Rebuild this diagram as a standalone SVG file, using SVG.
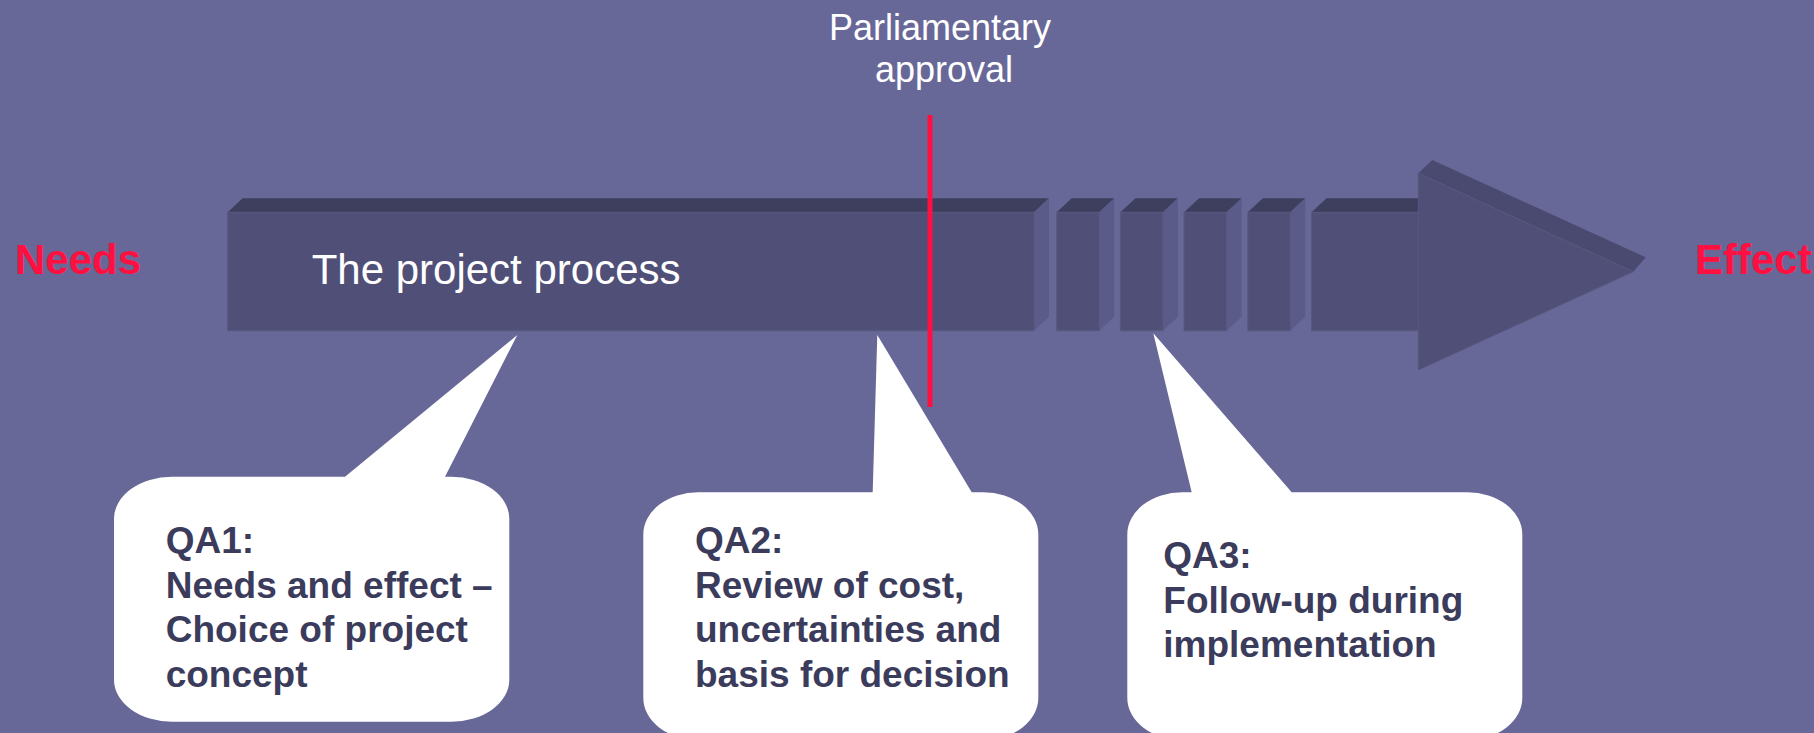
<svg xmlns="http://www.w3.org/2000/svg" width="1814" height="733" viewBox="0 0 1814 733">
  <style>
    .front { fill: #4f4f77; stroke: #58587f; stroke-width: 1; }
    .top { fill: #3e3e5e; }
    .side { fill: #5b5b8a; }
    .headtop { fill: #4a4a71; }
    .callout { fill: #ffffff; }
    .qa { font-family: "Liberation Sans", Arial, sans-serif; font-weight: bold; font-size: 37px; fill: #3b3b5c; }
    .endlabel { font-family: "Liberation Sans", Arial, sans-serif; font-weight: bold; font-size: 42px; fill: #ff1040; }
    .light { font-family: "Liberation Sans", Arial, sans-serif; fill: #ffffff; }
  </style>
  <rect x="0" y="0" width="1814" height="733" fill="#686898"/>

  <g id="process-arrow">
    <!-- main bar -->
    <polygon class="top" points="227.7,212.3 242.7,198.3 1049,198.3 1034,212.3"/>
    <polygon class="side" points="1034,212.3 1049,198.3 1049,316.7 1034,330.7"/>
    <rect class="front" x="227.7" y="212.3" width="806.3" height="118.4"/>
    <!-- segments -->
    <polygon class="top" points="1056.7,212.3 1071.7,198.3 1114.2,198.3 1099.2,212.3"/>
    <polygon class="side" points="1099.2,212.3 1114.2,198.3 1114.2,316.7 1099.2,330.7"/>
    <rect class="front" x="1056.7" y="212.3" width="42.5" height="118.4"/>

    <polygon class="top" points="1120.4,212.3 1135.4,198.3 1177.9,198.3 1162.9,212.3"/>
    <polygon class="side" points="1162.9,212.3 1177.9,198.3 1177.9,316.7 1162.9,330.7"/>
    <rect class="front" x="1120.4" y="212.3" width="42.5" height="118.4"/>

    <polygon class="top" points="1184.1,212.3 1199.1,198.3 1241.6,198.3 1226.6,212.3"/>
    <polygon class="side" points="1226.6,212.3 1241.6,198.3 1241.6,316.7 1226.6,330.7"/>
    <rect class="front" x="1184.1" y="212.3" width="42.5" height="118.4"/>

    <polygon class="top" points="1247.8,212.3 1262.8,198.3 1305.3,198.3 1290.3,212.3"/>
    <polygon class="side" points="1290.3,212.3 1305.3,198.3 1305.3,316.7 1290.3,330.7"/>
    <rect class="front" x="1247.8" y="212.3" width="42.5" height="118.4"/>

    <!-- last body piece -->
    <polygon class="top" points="1311.5,212.3 1326.5,198.3 1433.3,198.3 1418.3,212.3"/>
    <rect class="front" x="1311.5" y="212.3" width="110" height="118.4"/>
    <!-- arrowhead -->
    <polygon class="headtop" points="1418.3,173.3 1432.3,160 1645.7,257.3 1633.3,271.7"/>
    <polygon class="front" points="1418.3,173.3 1633.3,271.7 1418.3,370"/>
    <text class="light" x="311.7" y="284" font-size="42">The project process</text>
  </g>

  <g id="connectors">
    <line x1="930" y1="115" x2="930" y2="407" stroke="#ff1040" stroke-width="5"/>
  </g>

  <g id="parliamentary-approval">
    <text class="light" font-size="36" text-anchor="middle">
      <tspan x="945" y="39.5">Parliamentary</tspan>
      <tspan x="944" y="81.7">approval</tspan>
    </text>
  </g>

  <g id="needs">
    <text class="endlabel" x="15" y="274">Needs</text>
  </g>
  <g id="effect">
    <text class="endlabel" x="1695" y="273.5">Effect</text>
  </g>

  <g id="qa1">
    <path class="callout" d="M172,476.7 L345,476.7 L517.3,335 L445,476.7 L451.3,476.7 A58,42 0 0 1 509.3,518.7 L509.3,679.7 A58,42 0 0 1 451.3,721.7 L172,721.7 A58,42 0 0 1 114,679.7 L114,518.7 A58,42 0 0 1 172,476.7 Z"/>
    <text class="qa">
      <tspan x="165.7" y="553.3">QA1:</tspan>
      <tspan x="165.7" y="597.7">Needs and effect –</tspan>
      <tspan x="165.7" y="641.7">Choice of project</tspan>
      <tspan x="165.7" y="686.7">concept</tspan>
    </text>
  </g>

  <g id="qa2">
    <path class="callout" d="M698.3,492.3 L872.7,492.3 L877.3,335 L971.7,492.3 L983.3,492.3 A55,42 0 0 1 1038.3,534.3 L1038.3,698 A55,42 0 0 1 983.3,740 L698.3,740 A55,42 0 0 1 643.3,698 L643.3,534.3 A55,42 0 0 1 698.3,492.3 Z"/>
    <text class="qa">
      <tspan x="695" y="553.3">QA2:</tspan>
      <tspan x="695" y="597.7">Review of cost,</tspan>
      <tspan x="695" y="641.7">uncertainties and</tspan>
      <tspan x="695" y="686.7">basis for decision</tspan>
    </text>
  </g>

  <g id="qa3">
    <path class="callout" d="M1182.3,492.3 L1191.7,492.3 L1153.3,333.3 L1291.7,492.3 L1467.3,492.3 A55,42 0 0 1 1522.3,534.3 L1522.3,698 A55,42 0 0 1 1467.3,740 L1182.3,740 A55,42 0 0 1 1127.3,698 L1127.3,534.3 A55,42 0 0 1 1182.3,492.3 Z"/>
    <text class="qa">
      <tspan x="1163.3" y="568.3">QA3:</tspan>
      <tspan x="1163.3" y="613.3">Follow-up during</tspan>
      <tspan x="1163.3" y="657.3">implementation</tspan>
    </text>
  </g>
</svg>
